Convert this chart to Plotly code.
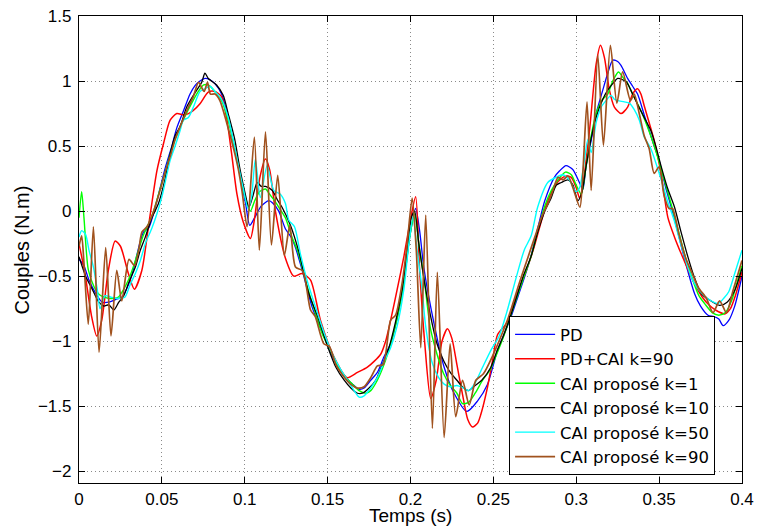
import plotly.graph_objects as go

# ---- data (time in s, torque in N.m) ----
t_pd = [0.000, 0.003, 0.006, 0.010, 0.014, 0.018, 0.022, 0.026, 0.030, 0.033, 0.036, 0.039, 0.042, 0.046,
        0.049, 0.052, 0.056, 0.059, 0.063, 0.067, 0.070, 0.073, 0.076, 0.079, 0.082, 0.086, 0.089, 0.092,
        0.095, 0.098, 0.1005, 0.103, 0.106, 0.110, 0.1145, 0.117, 0.1205, 0.1245, 0.128, 0.1306, 0.135,
        0.1407, 0.145, 0.149, 0.153, 0.157, 0.161, 0.165, 0.169, 0.172, 0.176, 0.180, 0.184, 0.188, 0.192,
        0.196, 0.1995, 0.2031, 0.2055, 0.208, 0.2143, 0.2203, 0.2263, 0.234, 0.2404, 0.2465, 0.2525, 0.257,
        0.261, 0.265, 0.269, 0.273, 0.277, 0.281, 0.2868, 0.290, 0.2938, 0.2979, 0.3019, 0.304, 0.306, 0.309,
        0.312, 0.316, 0.319, 0.322, 0.325, 0.327, 0.331, 0.334, 0.337, 0.341, 0.344, 0.347, 0.350, 0.354,
        0.358, 0.362, 0.366, 0.3714, 0.375, 0.3795, 0.383, 0.386, 0.3886, 0.392, 0.3956, 0.400]
y_pd = [-0.37, -0.42, -0.53, -0.63, -0.70, -0.70, -0.68, -0.66, -0.56, -0.44, -0.28, -0.16, -0.13, 0.03,
        0.18, 0.33, 0.50, 0.64, 0.77, 0.90, 0.965, 1.00, 1.02, 1.01, 0.98, 0.90, 0.77, 0.60,
        0.41, 0.22, 0.06, -0.11, -0.05, 0.04, 0.08, 0.06, 0.00, -0.135, -0.20, -0.28, -0.47,
        -0.74, -0.88, -1.00, -1.12, -1.22, -1.28, -1.33, -1.37, -1.36, -1.30, -1.24, -1.12, -1.02, -0.82,
        -0.55, -0.20, 0.02, -0.15, -0.43, -0.87, -1.20, -1.40, -1.54, -1.46, -1.33, -1.07, -0.93,
        -0.80, -0.65, -0.50, -0.33, -0.12, 0.08, 0.26, 0.31, 0.35, 0.32, 0.22, 0.17, 0.36, 0.544,
        0.75, 0.93, 1.06, 1.16, 1.15, 1.12, 1.02, 0.96, 0.90, 0.74, 0.62, 0.50, 0.39, 0.18,
        0.00, -0.20, -0.40, -0.635, -0.73, -0.80, -0.81, -0.83, -0.88, -0.84, -0.73, -0.50]

t_pdcai = [0.000, 0.0036, 0.0077, 0.0107, 0.0137, 0.0177, 0.0218, 0.025, 0.0298, 0.0334, 0.0379, 0.0419,
           0.047, 0.051, 0.055, 0.059, 0.0631, 0.066, 0.069, 0.073, 0.078, 0.082, 0.086, 0.089, 0.092,
           0.0953, 0.099, 0.1034, 0.106, 0.109, 0.1125, 0.115, 0.1185, 0.1245, 0.1296, 0.1346, 0.1397,
           0.1457, 0.1538, 0.1618, 0.168, 0.174, 0.182, 0.185, 0.188, 0.192, 0.196, 0.1995, 0.2031, 0.2055,
           0.2085, 0.2122, 0.2155, 0.219, 0.2223, 0.225, 0.228, 0.2314, 0.2345, 0.2374, 0.2405, 0.2425,
           0.246, 0.2495, 0.2525, 0.258, 0.262, 0.266, 0.270, 0.274, 0.278, 0.282, 0.286, 0.290, 0.294,
           0.297, 0.300, 0.302, 0.304, 0.308, 0.312, 0.3146, 0.317, 0.320, 0.323, 0.327, 0.331, 0.334,
           0.337, 0.339, 0.341, 0.344, 0.347, 0.351, 0.3553, 0.3593, 0.3634, 0.3714, 0.376, 0.380, 0.384,
           0.3896, 0.393, 0.396, 0.400]
y_pdcai = [-0.25, -0.48, -0.815, -0.96, -0.84, -0.456, -0.23, -0.27, -0.48, -0.60, -0.456, -0.12,
           0.31, 0.52, 0.70, 0.75, 0.74, 0.75, 0.775, 0.826, 0.915, 0.92, 0.88, 0.72, 0.45,
           0.13, -0.08, -0.21, -0.05, 0.25, 0.40, 0.32, 0.00, -0.36, -0.50, -0.48, -0.53,
           -0.84, -1.12, -1.28, -1.24, -1.20, -1.10, -1.00, -0.84, -0.60, -0.35, -0.10, 0.11, -0.45,
           -1.00, -1.44, -1.30, -1.00, -0.905, -0.98, -1.18, -1.41, -1.60, -1.66, -1.63, -1.56,
           -1.38, -1.15, -0.95, -0.86, -0.72, -0.58, -0.45, -0.30, -0.12, 0.05, 0.17, 0.24, 0.27,
           0.26, 0.18, 0.10, 0.20, 0.62, 1.13, 1.275, 1.18, 0.93, 0.80, 0.75, 0.80, 0.90,
           0.94, 0.90, 0.81, 0.68, 0.544, 0.30, -0.05, -0.20, -0.33, -0.56, -0.66, -0.72, -0.76,
           -0.79, -0.75, -0.65, -0.47]

t_k1 = [0.000, 0.0016, 0.003, 0.0056, 0.009, 0.0117, 0.0147, 0.0177, 0.021, 0.0238, 0.027, 0.0298, 0.033,
        0.0359, 0.039, 0.0419, 0.045, 0.048, 0.052, 0.056, 0.060, 0.064, 0.068, 0.072, 0.0752, 0.078,
        0.082, 0.086, 0.090, 0.094, 0.097, 0.100, 0.1034, 0.106, 0.109, 0.1125, 0.115, 0.118, 0.121,
        0.1245, 0.1285, 0.132, 0.137, 0.142, 0.147, 0.152, 0.157, 0.161, 0.165, 0.169, 0.173, 0.176,
        0.180, 0.184, 0.188, 0.192, 0.196, 0.1995, 0.2025, 0.205, 0.2085, 0.212, 0.216, 0.220, 0.224,
        0.228, 0.2314, 0.235, 0.239, 0.2435, 0.248, 0.252, 0.256, 0.260, 0.264, 0.268, 0.2727, 0.277,
        0.281, 0.285, 0.289, 0.2935, 0.297, 0.300, 0.303, 0.306, 0.309, 0.312, 0.316, 0.319, 0.322,
        0.3255, 0.328, 0.331, 0.334, 0.338, 0.342, 0.346, 0.350, 0.354, 0.358, 0.362, 0.366, 0.370,
        0.374, 0.378, 0.382, 0.386, 0.390, 0.394, 0.397, 0.400]
y_k1 = [-0.05, 0.15, -0.05, -0.45, -0.58, -0.635, -0.66, -0.67, -0.67, -0.66, -0.60, -0.53, -0.42,
        -0.30, -0.18, -0.10, 0.00, 0.13, 0.30, 0.48, 0.62, 0.73, 0.83, 0.92, 0.97, 0.97,
        0.92, 0.85, 0.70, 0.48, 0.30, 0.12, 0.00, 0.08, 0.15, 0.17, 0.13, 0.08, 0.02,
        -0.05, -0.20, -0.31, -0.55, -0.76, -0.95, -1.08, -1.21, -1.28, -1.33, -1.38, -1.40, -1.38,
        -1.30, -1.18, -1.02, -0.82, -0.55, -0.20, -0.02, -0.25, -0.55, -0.90, -1.10, -1.25, -1.34,
        -1.40, -1.48, -1.47, -1.40, -1.30, -1.22, -1.10, -0.97, -0.82, -0.67, -0.52, -0.35, -0.14,
        0.04, 0.16, 0.24, 0.30, 0.28, 0.20, 0.13, 0.35, 0.58, 0.75, 0.86, 0.90, 1.00,
        1.07, 1.03, 0.98, 0.90, 0.80, 0.68, 0.54, 0.38, 0.20, 0.02, -0.17, -0.36, -0.52,
        -0.65, -0.72, -0.78, -0.80, -0.78, -0.68, -0.55, -0.42]

t_k10 = [0.000, 0.004, 0.008, 0.012, 0.015, 0.018, 0.021, 0.024, 0.027, 0.030, 0.034, 0.037, 0.040, 0.044,
         0.048, 0.052, 0.055, 0.058, 0.061, 0.065, 0.070, 0.074, 0.076, 0.078, 0.083, 0.087, 0.090, 0.094,
         0.097, 0.100, 0.1025, 0.105, 0.1075, 0.110, 0.1125, 0.1165, 0.120, 0.1225, 0.1276, 0.1326, 0.1387,
         0.1437, 0.150, 0.155, 0.160, 0.164, 0.168, 0.171, 0.175, 0.179, 0.183, 0.187, 0.191, 0.195, 0.198,
         0.2005, 0.2025, 0.205, 0.208, 0.212, 0.216, 0.220, 0.224, 0.228, 0.232, 0.235, 0.239, 0.243,
         0.2485, 0.252, 0.256, 0.260, 0.264, 0.268, 0.2727, 0.277, 0.281, 0.2848, 0.288, 0.291, 0.295,
         0.298, 0.301, 0.3035, 0.306, 0.309, 0.312, 0.316, 0.319, 0.322, 0.325, 0.328, 0.3305, 0.334,
         0.3374, 0.341, 0.345, 0.348, 0.3513, 0.355, 0.3593, 0.363, 0.3674, 0.371, 0.3755, 0.380, 0.3865,
         0.391, 0.3956, 0.400]
y_k10 = [-0.35, -0.50, -0.60, -0.70, -0.73, -0.72, -0.76, -0.70, -0.65, -0.55, -0.43, -0.30, -0.20, -0.05,
         0.06, 0.25, 0.44, 0.58, 0.65, 0.80, 0.91, 0.99, 1.06, 1.02, 0.97, 0.89, 0.75, 0.55,
         0.33, 0.15, 0.03, 0.12, 0.22, 0.19, 0.19, 0.16, 0.08, 0.03, -0.11, -0.31, -0.635,
         -0.80, -1.04, -1.20, -1.30, -1.36, -1.40, -1.40, -1.36, -1.30, -1.18, -1.05, -0.85, -0.60, -0.30,
         -0.05, 0.00, -0.25, -0.51, -0.80, -1.02, -1.15, -1.24, -1.30, -1.36, -1.38, -1.34, -1.30,
         -1.20, -1.08, -0.96, -0.82, -0.66, -0.50, -0.35, -0.15, 0.00, 0.10, 0.20, 0.22, 0.24,
         0.20, 0.08, 0.15, 0.35, 0.56, 0.72, 0.86, 0.93, 0.98, 1.02, 1.01, 0.99, 0.90,
         0.81, 0.72, 0.62, 0.50, 0.34, 0.18, 0.03, -0.15, -0.354, -0.50, -0.635, -0.68, -0.725,
         -0.70, -0.61, -0.44]

t_k50 = [0.000, 0.0016, 0.004, 0.006, 0.0087, 0.011, 0.0127, 0.0157, 0.019, 0.022, 0.0258, 0.0278, 0.031,
         0.034, 0.037, 0.040, 0.044, 0.047, 0.050, 0.053, 0.055, 0.058, 0.061, 0.063, 0.066, 0.069, 0.073,
         0.076, 0.079, 0.082, 0.086, 0.090, 0.093, 0.096, 0.099, 0.102, 0.104, 0.1064, 0.1094, 0.1135,
         0.1175, 0.1215, 0.1245, 0.1266, 0.130, 0.1336, 0.138, 0.143, 0.148, 0.153, 0.158, 0.162, 0.166,
         0.169, 0.172, 0.176, 0.180, 0.184, 0.188, 0.192, 0.196, 0.199, 0.2015, 0.204, 0.207, 0.209,
         0.2132, 0.217, 0.2203, 0.224, 0.228, 0.232, 0.235, 0.239, 0.2435, 0.2485, 0.2535, 0.258, 0.264,
         0.2686, 0.2728, 0.2767, 0.2828, 0.2878, 0.292, 0.2958, 0.2998, 0.302, 0.3049, 0.307, 0.309, 0.312,
         0.315, 0.318, 0.321, 0.323, 0.325, 0.329, 0.332, 0.335, 0.338, 0.341, 0.345, 0.3513, 0.355,
         0.3593, 0.363, 0.367, 0.371, 0.375, 0.379, 0.3855, 0.389, 0.392, 0.3956, 0.400]
y_k50 = [-0.20, -0.15, -0.18, -0.30, -0.43, -0.60, -0.75, -0.65, -0.66, -0.67, -0.67, -0.66, -0.56,
         -0.48, -0.38, -0.25, -0.13, -0.02, 0.11, 0.28, 0.39, 0.50, 0.62, 0.70, 0.72, 0.80, 0.92,
         0.94, 0.96, 0.92, 0.86, 0.72, 0.55, 0.36, 0.18, 0.02, 0.10, 0.40, 0.105, 0.35,
         0.16, 0.13, 0.06, -0.07, -0.12, -0.33, -0.55, -0.75, -0.94, -1.10, -1.22, -1.30, -1.38,
         -1.43, -1.42, -1.36, -1.28, -1.16, -1.05, -0.88, -0.60, -0.25, -0.05, -0.30, -0.60, -0.87,
         -1.17, -1.28, -1.33, -1.35, -1.34, -1.36, -1.38, -1.32, -1.20, -1.07, -0.96, -0.78, -0.50,
         -0.30, -0.19, 0.03, 0.22, 0.26, 0.28, 0.24, 0.15, 0.18, 0.39, 0.55, 0.45, 0.68,
         0.80, 0.85, 0.89, 0.86, 0.85, 0.84, 0.83, 0.78, 0.70, 0.57, 0.48, 0.24, 0.08,
         -0.08, -0.25, -0.42, -0.55, -0.62, -0.67, -0.71, -0.67, -0.62, -0.48, -0.30]

t_k90 = [0.000, 0.0016, 0.003, 0.0056, 0.0087, 0.0121, 0.0161, 0.0193, 0.0228, 0.0258, 0.0302, 0.0335,
         0.036, 0.038, 0.041, 0.0445, 0.048, 0.052, 0.055, 0.058, 0.062, 0.066, 0.069, 0.0721, 0.0755,
         0.0775, 0.0793, 0.082, 0.085, 0.0893, 0.0933, 0.096, 0.0984, 0.1014, 0.1058, 0.1088, 0.1125,
         0.1161, 0.1199, 0.1239, 0.1272, 0.1306, 0.135, 0.1397, 0.1425, 0.1477, 0.151, 0.155, 0.159,
         0.1638, 0.1679, 0.172, 0.176, 0.180, 0.1835, 0.188, 0.191, 0.195, 0.198, 0.201, 0.2035, 0.2062,
         0.2092, 0.2132, 0.2162, 0.2203, 0.2239, 0.2273, 0.2314, 0.2354, 0.2394, 0.244, 0.250, 0.255,
         0.259, 0.263, 0.267, 0.271, 0.275, 0.279, 0.283, 0.286, 0.289, 0.292, 0.295, 0.298, 0.3022,
         0.304, 0.3065, 0.309, 0.313, 0.3164, 0.3206, 0.3245, 0.328, 0.3327, 0.335, 0.338, 0.341, 0.344,
         0.347, 0.350, 0.353, 0.356, 0.358, 0.362, 0.366, 0.370, 0.3735, 0.3785, 0.3825, 0.3865, 0.3906,
         0.3946, 0.400]
y_k90 = [-0.27, -0.19, -0.40, -0.87, -0.12, -1.085, -0.28, -0.96, -0.456, -0.69, -0.37, -0.42,
         -0.30, -0.16, -0.12, -0.02, 0.12, 0.30, 0.42, 0.55, 0.68, 0.80, 0.88, 0.99, 0.92,
         0.99, 0.90, 0.90, 0.85, 0.67, 0.48, 0.33, 0.15, -0.12, 0.57, -0.30, 0.61,
         -0.26, 0.275, -0.34, -0.11, -0.43, -0.46, -0.76, -0.81, -1.02, -1.04, -1.18, -1.26,
         -1.33, -1.36, -1.35, -1.28, -1.19, -1.18, -0.84, -0.80, -0.55, -0.25, 0.10, -0.30, -1.05,
         -0.03, -1.67, -0.47, -1.74, -1.02, -1.58, -1.30, -1.49, -1.30, -1.25, -1.10, -0.95,
         -0.82, -0.66, -0.50, -0.35, -0.20, -0.05, 0.06, 0.16, 0.26, 0.24, 0.27, 0.18, 0.03,
         0.30, 0.84, 0.16, 1.20, 0.505, 1.275, 0.83, 1.07, 0.85, 0.90, 0.75, 0.58, 0.48,
         0.29, 0.34, 0.12, 0.02, 0.02, -0.18, -0.36, -0.48, -0.585, -0.67, -0.78, -0.69, -0.78,
         -0.61, -0.38]

series = [
    ("PD", t_pd, y_pd, "#0000FF", 1.3),
    ("PD+CAI k=90", t_pdcai, y_pdcai, "#FF0000", 1.5),
    ("CAI proposé k=1", t_k1, y_k1, "#00FF00", 1.4),
    ("CAI proposé k=10", t_k10, y_k10, "#000000", 1.3),
    ("CAI proposé k=50", t_k50, y_k50, "#00FFFF", 1.4),
    ("CAI proposé k=90", t_k90, y_k90, "#A0521E", 1.7),
]

x_ticks = [0, 0.05, 0.1, 0.15, 0.2, 0.25, 0.3, 0.35, 0.4]
x_labels = ["0", "0.05", "0.1", "0.15", "0.2", "0.25", "0.3", "0.35", "0.4"]
y_ticks = [-2, -1.5, -1, -0.5, 0, 0.5, 1, 1.5]
y_labels = ["\u22122", "\u22121.5", "\u22121", "\u22120.5", "0", "0.5", "1", "1.5"]

FONT = "Liberation Sans, Arial, sans-serif"

fig = go.Figure()
for name, t, y, col, w in series:
    fig.add_trace(go.Scatter(x=t, y=y, mode="lines", name=name,
                             line=dict(color=col, width=w, shape="spline", smoothing=0.7)))

axis_common = dict(showline=True, linecolor="black", linewidth=1.2, mirror="ticks",
                   ticks="inside", ticklen=6, tickcolor="black", automargin=False,
                   showgrid=True, gridcolor="#8a8a8a", griddash="1px,3px", gridwidth=1,
                   zeroline=False, tickfont=dict(family=FONT, size=17, color="black"))

fig.update_layout(
    width=757, height=527,
    margin=dict(l=79, r=15, t=16, b=44),
    paper_bgcolor="white", plot_bgcolor="white",
    font=dict(family=FONT, size=17, color="black"),
    xaxis=dict(range=[0, 0.4], tickvals=x_ticks, ticktext=x_labels, ticklabelstandoff=0, **axis_common),
    yaxis=dict(range=[-2.09, 1.5], tickvals=y_ticks, ticktext=y_labels, ticklabelstandoff=3, **axis_common),
    legend=dict(x=0.9594, y=0.0169, xanchor="right", yanchor="bottom",
                bgcolor="white", bordercolor="black", borderwidth=1,
                font=dict(family="DejaVu Sans, Liberation Sans, sans-serif", size=16.5, color="black"),
                tracegroupgap=0, itemwidth=40),
    showlegend=True,
    annotations=[
        dict(text="Temps (s)", xref="paper", yref="paper", x=0.5, y=-0.070,
             xanchor="center", yanchor="middle", showarrow=False,
             font=dict(family=FONT, size=19, color="black")),
        dict(text="Couples (N.m)", xref="paper", yref="paper", x=-0.086, y=0.5,
             xanchor="center", yanchor="middle", showarrow=False, textangle=-90,
             font=dict(family=FONT, size=20, color="black")),
    ],
)

fig.write_html("out.html", config={"displayModeBar": False},
               post_script="document.body.style.margin='0';document.body.style.padding='0';")
